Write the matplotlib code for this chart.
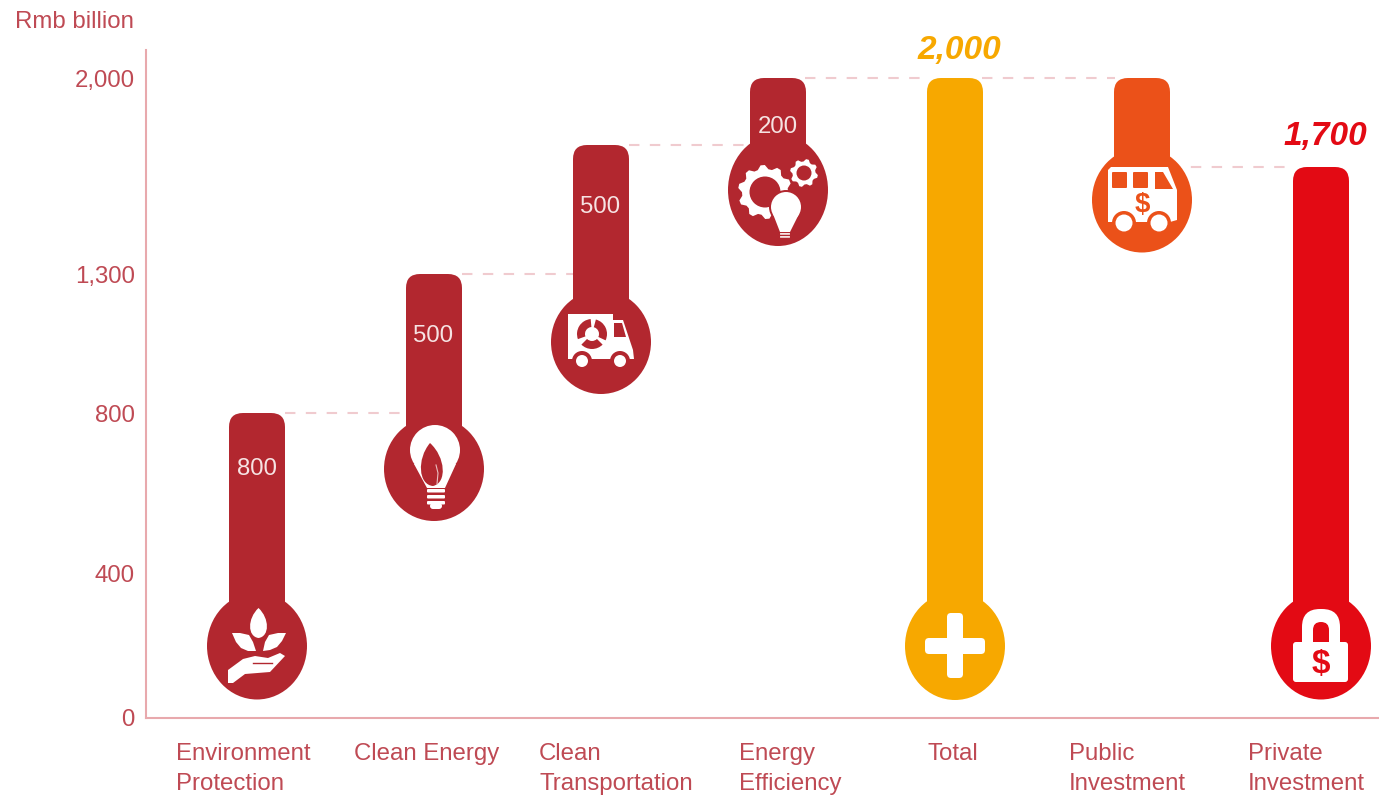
import matplotlib
matplotlib.use("Agg")
import matplotlib.pyplot as plt
import numpy as np
from matplotlib.patches import Circle, Ellipse, FancyBboxPatch, PathPatch, Polygon, Wedge
from matplotlib.path import Path

plt.rcParams["font.family"] = ["Liberation Sans", "DejaVu Sans"]

# Data
categories = ["Environment\nProtection", "Clean Energy", "Clean\nTransportation",
              "Energy\nEfficiency", "Total", "Public\nInvestment", "Private\nInvestment"]
bar_tops = [800, 1300, 1800, 2000, 2000, 2000, 1700]
bar_bottoms = [0, 800, 1300, 1800, 0, 1700, 0]
value_labels = ["800", "500", "500", "200", "", "", ""]
total_labels = ["", "", "", "", "2,000", "", "1,700"]
y_ticks = [0, 400, 800, 1300, 2000]
y_tick_labels = ["0", "400", "800", "1,300", "2,000"]

# The axis of the original is not linear, these pairs are value / height in px
scale_values = [0, 400, 800, 1300, 1700, 1800, 2000, 2105]
scale_heights = [0, 145, 305, 444, 551, 573, 640, 668]

# Styles
DARK = "#B2272F"
YELLOW = "#F7A800"
ORANGE = "#EB5119"
RED = "#E30A14"
TEXT = "#BF4A54"
colors = [DARK, DARK, DARK, DARK, YELLOW, ORANGE, RED]
centers = [257, 434, 601, 778, 955, 1142, 1321]
label_left = [176, 354, 539, 739, 927, 1069, 1248]
head_y = [646, 469, 342, 190, 646, 200, 646]
head_h = [107, 104, 104, 112, 108, 105, 107]
value_y = [469, 336, 207, 127]
total_gap = [0, 0, 0, 0, 27, 0, 30]
W, H = 1379, 798

fig = plt.figure(figsize=(W / 100, H / 100), dpi=100)
ax = fig.add_axes([146 / W, (H - 718) / H, (W - 146) / W, 668 / H])
ax.set_yscale("function", functions=(lambda v: np.interp(v, scale_values, scale_heights),
                                     lambda h: np.interp(h, scale_heights, scale_values)))
ax.set_xlim(146, W)
ax.set_ylim(0, 2105)
ax.patch.set_alpha(0)
for side in ["top", "right"]:
    ax.spines[side].set_visible(False)
for side in ["left", "bottom"]:
    ax.spines[side].set_color("#E8A9AD")
    ax.spines[side].set_linewidth(1.5)
ax.set_yticks(y_ticks, y_tick_labels)
ax.yaxis.set_minor_locator(matplotlib.ticker.NullLocator())
ax.tick_params(axis="y", length=0, pad=8, labelsize=17.3, labelcolor=TEXT)
ax.set_xticks(label_left, categories, ha="left", linespacing=1.45)
ax.tick_params(axis="x", length=0, pad=18, labelsize=17.3, labelcolor=TEXT)

# Connector lines between the bars
links = [(800, 285, 407), (1300, 462, 574), (1800, 629, 751), (2000, 805, 927),
         (2000, 982, 1115), (1700, 1170, 1293)]
for v, x0, x1 in links:
    ax.plot([x0, x1], [v, v], color="#F0CBCF", lw=1.5, dashes=(5, 5))

# Overlay in image pixels for the thermometers and the icons
ov = fig.add_axes([0, 0, 1, 1])
ov.set_xlim(0, W)
ov.set_ylim(H, 0)
ov.axis("off")
ov.patch.set_alpha(0)


def ypx(v):
    return H - ax.transData.transform((0, v))[1]


def rrect(x0, y0, x1, y1, r, color, z=4):
    ov.add_patch(FancyBboxPatch((x0 + r, y0 + r), x1 - x0 - 2 * r, y1 - y0 - 2 * r,
                                boxstyle=f"round,pad={r},rounding_size={r}", fc=color, ec="none", zorder=z))


def poly(pts, color, z=4):
    ov.add_patch(Polygon(pts, closed=True, fc=color, ec="none", zorder=z))


def circ(x, y, r, color, z=4):
    ov.add_patch(Circle((x, y), r, fc=color, ec="none", zorder=z))


def leaf(tip, base, width, color, z=4):
    tip, base = np.array(tip, float), np.array(base, float)
    d = base - tip
    n = np.array([-d[1], d[0]]) / np.hypot(*d) * width * 0.66
    a, b = tip + d * 0.35, tip + d * 0.95
    verts = [tip, a + n, b + n, base, b - n, a - n, tip]
    codes = [Path.MOVETO] + [Path.CURVE4] * 6
    ov.add_patch(PathPatch(Path(verts, codes), fc=color, ec="none", zorder=z))


def gear(x, y, r_out, r_in, teeth, color, z=4):
    ang = np.linspace(0, 2 * np.pi, teeth * 4, endpoint=False) + 0.15
    rad = np.tile([r_out, r_out, r_in, r_in], teeth)
    poly(np.c_[x + rad * np.cos(ang), y + rad * np.sin(ang)], color, z)


# Bars and heads
for i, (top, col) in enumerate(zip(bar_tops, colors)):
    cx = centers[i]
    rrect(cx - 28, ypx(top), cx + 28, head_y[i], 14, col, 3)
    ov.add_patch(Ellipse((cx, head_y[i]), 100, head_h[i], fc=col, ec="none", zorder=3))
    if value_labels[i]:
        ov.text(cx - 0.5, value_y[i], value_labels[i], color="#F6E3E3", fontsize=17.3,
                ha="center", va="center", zorder=5)
    if total_labels[i]:
        ov.text(cx + 4, ypx(top) - total_gap[i], total_labels[i], color=col, fontsize=24, fontweight="bold",
                fontstyle="italic", ha="center", va="center", zorder=5)

ov.text(15, 22, "Rmb billion", color=TEXT, fontsize=17.3, ha="left", va="center")

# Icon: plant in a hand
leaf((258.5, 608), (258.5, 638), 17, "white")
poly([(232, 633), (240, 633), (249, 635), (253, 642), (256, 651), (248, 651), (241, 648), (236, 642)], "white")
poly([(286, 633), (278, 633), (269, 635), (265, 642), (263, 651), (270, 650), (277, 647), (282, 641)], "white")
poly([(228, 683), (228, 670), (243, 659), (255, 656), (268, 658), (280, 653), (285, 656),
      (270, 672), (245, 674), (233, 683)], "white")
ov.plot([253, 272], [663, 663], color=DARK, lw=1, zorder=5)

# Icon: bulb with flame
circ(435, 450, 25, "white")
poly([(414, 464), (427, 488), (445, 488), (456, 464)], "white")
for yb in [489, 495, 501]:
    rrect(427, yb, 445, yb + 3.5, 1, "white")
rrect(430, 503, 442, 509, 3, "white")
leaf((430, 443), (433, 486), 22, DARK, 5)
ov.plot([436, 438, 437], [465, 473, 484], color="#E9BFC1", lw=0.8, zorder=6)

# Icon: recycling truck
poly([(568, 314), (613, 314), (613, 320), (623, 320), (633, 350), (634, 359), (568, 359)], "white")
poly([(614, 323), (622, 323), (626, 337), (614, 337)], DARK, 5)
for a0, a1 in [(-75, 25), (45, 135), (160, 265)]:
    ov.add_patch(Wedge((592, 334), 15, a0, a1, width=8, fc=DARK, ec="none", zorder=5))
for xw in [582, 620]:
    circ(xw, 361, 10, DARK, 5)
    circ(xw, 361, 6, "white", 6)

# Icon: gears and bulb
gear(765, 192, 27, 23, 10, "white")
circ(765, 192, 15.5, DARK, 5)
gear(804, 173, 14, 11.5, 8, "white")
circ(804, 173, 7.5, DARK, 5)
circ(786, 207, 17, DARK, 5)
circ(786, 207, 15, "white", 6)
poly([(773, 214), (780, 232), (790, 232), (799, 214)], "white", 6)
for yb in [233, 236]:
    rrect(780, yb, 790, yb + 1.8, 0.5, "#F6E3E3", 6)

# Icon: plus
rrect(947, 613, 963, 678, 4, "white")
rrect(925, 638, 985, 654, 4, "white")

# Icon: bus
poly([(1108, 170), (1111, 167), (1168, 167), (1177, 190), (1177, 220), (1170, 222),
      (1108, 222)], "white")
rrect(1112, 172, 1127, 188, 1, ORANGE, 5)
rrect(1133, 172, 1148, 188, 1, ORANGE, 5)
poly([(1155, 172), (1163, 172), (1173, 189), (1155, 189)], ORANGE, 5)
for xw in [1124, 1159]:
    circ(xw, 223, 12, ORANGE, 5)
    circ(xw, 223, 8.5, "white", 6)
ov.text(1142, 205, "$", color=ORANGE, fontsize=20, fontweight="bold", ha="center", va="center", zorder=7)

# Icon: padlock
rrect(1302, 609, 1340, 660, 18, "white")
rrect(1313, 622, 1329, 655, 8, RED, 5)
rrect(1293, 642, 1348, 682, 3, "white", 6)
ov.text(1321, 664, "$", color=RED, fontsize=24, fontweight="bold", ha="center", va="center", zorder=7)

fig.savefig("out.png", dpi=100)
